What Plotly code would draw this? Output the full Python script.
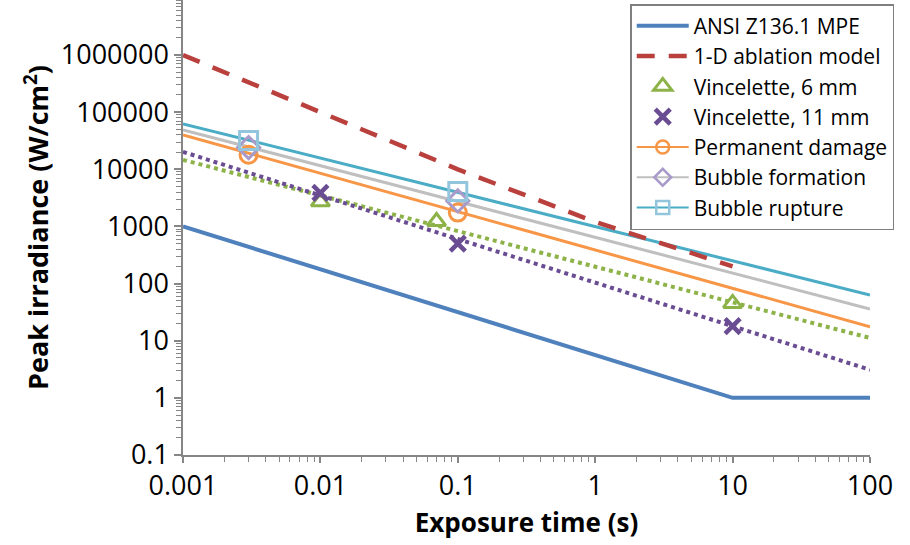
import plotly.graph_objects as go

# ---------------- data ----------------
x_tick_vals = [0.001, 0.01, 0.1, 1, 10, 100]
x_tick_text = ["0.001", "0.01", "0.1", "1", "10", "100"]
y_tick_vals = [0.1, 1, 10, 100, 1000, 10000, 100000, 1000000]
y_tick_text = ["0.1", "1", "10", "100", "1000", "10000", "100000", "1000000"]

ansi_t = [0.001, 0.01, 0.1, 1, 10, 100]
ansi_y = [1000, 178, 31.6, 5.6, 1, 1]

ablation_t = [0.001, 0.01, 0.1, 1, 10]
ablation_y = [1000000, 100000, 10000, 1200, 200]

v6_t = [0.01, 0.07, 10]
v6_y = [2700, 1220, 45]
v6_trend_t = [0.001, 100]
v6_trend_y = [14600, 11.2]

v11_t = [0.01, 0.1, 10]
v11_y = [3870, 500, 18]
v11_trend_t = [0.001, 100]
v11_trend_y = [20200, 3.1]

pd_t = [0.003, 0.1]
pd_y = [18000, 1750]
pd_trend_t = [0.001, 100]
pd_trend_y = [40000, 17.6]

bf_t = [0.003, 0.1]
bf_y = [24000, 2800]
bf_trend_t = [0.001, 100]
bf_trend_y = [49000, 36]

br_t = [0.003, 0.1]
br_y = [32000, 4100]
br_trend_t = [0.001, 100]
br_trend_y = [62400, 63]

# ---------------- styles ----------------
C_ANSI = "#4F81BD"
C_ABL = "#B9403D"
C_V6 = "#8DB348"
C_V11 = "#6A4C93"
C_PD = "#F79646"
C_BF_LINE = "#BFBFBF"
C_BF_MK = "#A99BC9"
C_BR_LINE = "#4BACC6"
C_BR_MK = "#93C5DD"
AXIS = "#868686"
FONT = "Open Sans"

fig = go.Figure()

# trend lines (no legend)
fig.add_trace(go.Scatter(x=br_trend_t, y=br_trend_y, mode="lines",
                         line=dict(color=C_BR_LINE, width=3), showlegend=False, hoverinfo="skip"))
fig.add_trace(go.Scatter(x=bf_trend_t, y=bf_trend_y, mode="lines",
                         line=dict(color=C_BF_LINE, width=3), showlegend=False, hoverinfo="skip"))
fig.add_trace(go.Scatter(x=pd_trend_t, y=pd_trend_y, mode="lines",
                         line=dict(color=C_PD, width=3), showlegend=False, hoverinfo="skip"))
fig.add_trace(go.Scatter(x=v6_trend_t, y=v6_trend_y, mode="lines",
                         line=dict(color=C_V6, width=4, dash="dot"), showlegend=False, hoverinfo="skip"))
fig.add_trace(go.Scatter(x=v11_trend_t, y=v11_trend_y, mode="lines",
                         line=dict(color=C_V11, width=4, dash="dot"), showlegend=False, hoverinfo="skip"))

# legend-visible series
fig.add_trace(go.Scatter(x=ansi_t, y=ansi_y, mode="lines", name="ANSI Z136.1 MPE",
                         line=dict(color=C_ANSI, width=4)))
fig.add_trace(go.Scatter(x=ablation_t, y=ablation_y, mode="lines", name="1-D ablation model",
                         line=dict(color=C_ABL, width=4.5, dash="18px,14px")))
fig.add_trace(go.Scatter(x=v6_t, y=v6_y, mode="markers", name="Vincelette, 6 mm",
                         marker=dict(symbol="triangle-up-open", size=16, color=C_V6,
                                     line=dict(width=3, color=C_V6))))
fig.add_trace(go.Scatter(x=v11_t, y=v11_y, mode="markers", name="Vincelette, 11 mm",
                         marker=dict(symbol="x-thin-open", size=15, color=C_V11,
                                     line=dict(width=4.5, color=C_V11))))

# legend entries for line+marker series
fig.add_trace(go.Scatter(x=[None], y=[None], mode="lines+markers", name="Permanent damage",
                         line=dict(color=C_PD, width=2),
                         marker=dict(symbol="circle-open", size=13, color=C_PD, line=dict(width=2.5, color=C_PD))))
fig.add_trace(go.Scatter(x=[None], y=[None], mode="lines+markers", name="Bubble formation",
                         line=dict(color=C_BF_LINE, width=2),
                         marker=dict(symbol="diamond-open", size=13, color=C_BF_MK, line=dict(width=2.5, color=C_BF_MK))))
fig.add_trace(go.Scatter(x=[None], y=[None], mode="lines+markers", name="Bubble rupture",
                         line=dict(color=C_BR_LINE, width=2),
                         marker=dict(symbol="square-open", size=13, color=C_BR_MK, line=dict(width=2.5, color=C_BR_MK))))

# markers on top
fig.add_trace(go.Scatter(x=pd_t, y=pd_y, mode="markers", showlegend=False, hoverinfo="skip",
                         marker=dict(symbol="circle-open", size=17, color=C_PD, line=dict(width=3, color=C_PD))))
fig.add_trace(go.Scatter(x=bf_t, y=bf_y, mode="markers", showlegend=False, hoverinfo="skip",
                         marker=dict(symbol="diamond-open", size=17, color=C_BF_MK, line=dict(width=3, color=C_BF_MK))))
fig.add_trace(go.Scatter(x=br_t, y=br_y, mode="markers", showlegend=False, hoverinfo="skip",
                         marker=dict(symbol="square-open", size=18, color=C_BR_MK, line=dict(width=3, color=C_BR_MK))))

minor_x = [m * 10.0 ** e for e in range(-3, 2) for m in range(2, 10)]
minor_y = [m * 10.0 ** e for e in range(-1, 7) for m in range(2, 10)]

fig.update_layout(
    width=910, height=545,
    margin=dict(l=183, r=40, t=0, b=90),
    paper_bgcolor="white", plot_bgcolor="white",
    font=dict(family=FONT, size=26, color="#000000"),
    showlegend=True,
    legend=dict(x=0.651, y=0.991, xanchor="left", yanchor="top",
                bgcolor="white", bordercolor="#7F7F7F", borderwidth=1.5,
                font=dict(family=FONT, size=21, color="#000000"),
                tracegroupgap=0, itemwidth=52),
    xaxis=dict(type="log", range=[-3, 2],
               tickmode="array", tickvals=x_tick_vals, ticktext=x_tick_text,
               showgrid=False, zeroline=False,
               showline=True, linecolor=AXIS, linewidth=1.5,
               ticks="outside", ticklen=6, tickcolor=AXIS, tickwidth=1.5,
               minor=dict(tickmode="array", tickvals=minor_x, ticks="outside",
                          ticklen=5, tickcolor=AXIS, tickwidth=1.2, showgrid=False),
               title=dict(text="<b>Exposure time (s)</b>", font=dict(family=FONT, size=26), standoff=12),
               tickfont=dict(family=FONT, size=27)),
    yaxis=dict(type="log", range=[-1, 6.963],
               tickmode="array", tickvals=y_tick_vals, ticktext=y_tick_text,
               showgrid=False, zeroline=False,
               showline=True, linecolor=AXIS, linewidth=1.5,
               ticks="outside", ticklen=7, tickcolor=AXIS, tickwidth=1.5,
               minor=dict(tickmode="array", tickvals=minor_y, ticks="outside",
                          ticklen=5, tickcolor=AXIS, tickwidth=1.2, showgrid=False),
               title=dict(text="<b>Peak irradiance (W/cm<sup>2</sup>)</b>", font=dict(family=FONT, size=27), standoff=4),
               tickfont=dict(family=FONT, size=27)),
)

fig.write_html("out.html")
